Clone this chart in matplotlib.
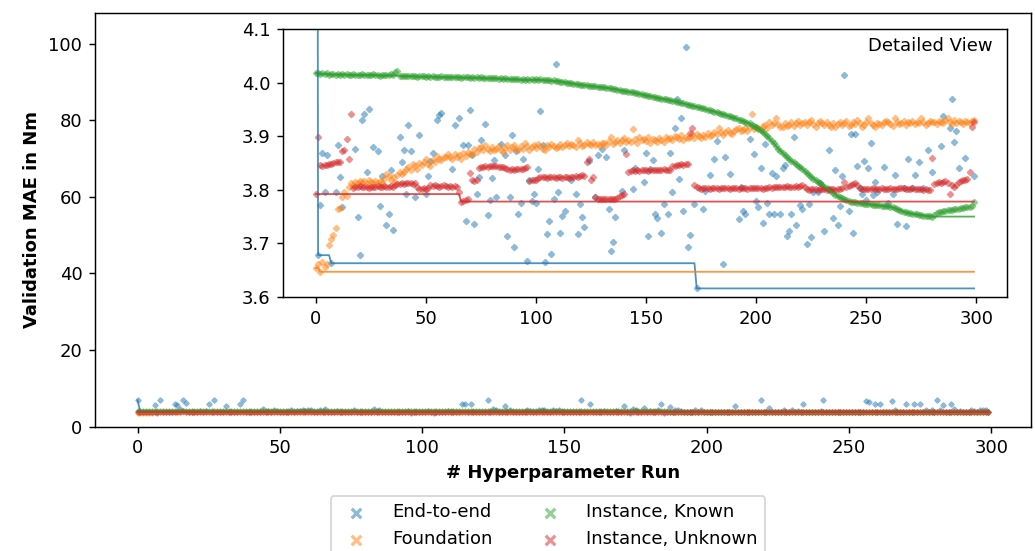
import numpy as np
import matplotlib
matplotlib.use("Agg")
import matplotlib.pyplot as plt

# validation MAE (Nm) per hyperparameter run
end_to_end = [
    6.90, 3.678, 3.772, 3.868, 3.796, 3.864, 5.70, 3.663, 6.90, 3.796,
    3.884, 3.824, 3.767, 5.90, 5.70, 4.50, 6.90, 6.10, 3.877, 3.750,
    3.678, 3.931, 3.942, 3.834, 3.950, 5.90, 3.880, 6.90, 3.873, 3.769,
    3.826, 5.40, 3.734, 3.754, 3.836, 3.725, 5.90, 6.90, 3.898, 3.851,
    3.874, 3.793, 3.920, 3.873, 4.60, 3.787, 4.20, 3.903, 4.35, 4.15,
    3.793, 3.825, 3.854, 3.869, 4.25, 3.930, 3.939, 3.944, 4.40, 4.18,
    4.30, 4.22, 3.839, 3.920, 4.45, 3.934, 4.60, 3.884, 3.742, 3.883,
    3.948, 3.864, 3.737, 3.793, 3.824, 3.892, 4.24, 3.923, 3.753, 3.781,
    3.822, 3.855, 3.787, 4.60, 3.886, 4.32, 3.865, 3.714, 3.786, 3.902,
    3.694, 3.873, 3.755, 3.776, 3.857, 4.19, 3.667, 3.819, 3.779, 3.793,
    3.775, 3.838, 3.947, 3.883, 3.666, 3.717, 3.742, 3.681, 3.783, 4.035,
    3.795, 3.719, 3.752, 3.761, 5.90, 5.90, 3.818, 5.90, 3.792, 3.718,
    3.774, 3.750, 3.731, 6.90, 3.854, 4.60, 4.25, 3.787, 3.864, 5.50,
    3.877, 4.22, 3.861, 3.764, 3.686, 3.702, 3.749, 4.30, 4.17, 3.798,
    3.875, 4.40, 4.21, 4.33, 3.802, 3.840, 4.26, 4.18, 4.45, 3.815,
    3.868, 3.713, 3.839, 3.855, 3.755, 3.747, 6.90, 3.719, 3.774, 5.90,
    3.755, 3.869, 3.796, 3.915, 3.969, 3.820, 3.934, 3.760, 4.066, 3.694,
    3.715, 5.50, 3.773, 3.616, 4.60, 4.28, 3.764, 3.797, 4.80, 3.827,
    4.20, 3.857, 3.891, 4.35, 5.90, 3.662, 3.861, 5.10, 3.830, 4.24,
    4.40, 4.19, 3.745, 3.805, 3.761, 3.754, 4.31, 3.895, 4.22, 3.867,
    3.780, 3.767, 3.841, 3.738, 3.886, 3.776, 3.755, 3.831, 3.755, 3.825,
    5.50, 3.755, 3.841, 3.846, 3.713, 3.724, 3.755, 3.899, 3.735, 6.90,
    3.771, 3.765, 4.90, 3.699, 3.774, 3.712, 3.796, 4.27, 3.796, 3.813,
    4.36, 3.724, 4.20, 3.874, 5.90, 3.748, 3.837, 3.735, 3.770, 3.826,
    4.014, 6.90, 3.761, 3.905, 3.719, 3.905, 3.844, 3.803, 3.793, 3.854,
    3.781, 3.840, 3.888, 3.791, 3.814, 3.796, 6.70, 6.30, 3.842, 5.90,
    3.776, 5.90, 3.793, 3.828, 3.736, 6.60, 4.30, 3.803, 3.733, 3.858,
    5.90, 3.803, 3.828, 5.90, 3.852, 5.90, 3.804, 4.25, 3.874, 4.40,
    3.833, 6.90, 4.22, 5.70, 3.881, 3.938, 5.90, 4.60, 3.916, 3.969,
    3.890, 3.909, 3.840, 4.30, 4.18, 3.859, 4.26, 4.40, 4.21, 3.826,
]

foundation = [
    3.654, 3.662, 3.647, 3.665, 3.656, 3.661, 3.697, 3.709, 3.716, 3.728,
    3.765, 3.766, 3.787, 3.796, 3.788, 3.806, 3.812, 3.809, 3.815, 3.812,
    3.817, 3.814, 3.816, 3.811, 3.818, 3.815, 3.813, 3.817, 3.812, 3.816,
    3.813, 3.820, 3.830, 3.826, 3.818, 3.823, 3.815, 3.828, 3.834, 3.830,
    3.833, 3.838, 3.842, 3.836, 3.848, 3.844, 3.839, 3.850, 3.846, 3.851,
    3.857, 3.849, 3.845, 3.855, 3.852, 3.863, 3.858, 3.855, 3.862, 3.861,
    3.866, 3.861, 3.858, 3.867, 3.862, 3.864, 3.857, 3.868, 3.863, 3.871,
    3.866, 3.867, 3.876, 3.870, 3.878, 3.880, 3.874, 3.883, 3.876, 3.872,
    3.879, 3.874, 3.877, 3.881, 3.875, 3.871, 3.878, 3.883, 3.874, 3.880,
    3.883, 3.876, 3.874, 3.881, 3.877, 3.888, 3.882, 3.875, 3.880, 3.884,
    3.878, 3.886, 3.881, 3.877, 3.874, 3.883, 3.879, 3.886, 3.882, 3.878,
    3.880, 3.885, 3.879, 3.883, 3.887, 3.881, 3.886, 3.884, 3.880, 3.892,
    3.887, 3.881, 3.883, 3.889, 3.885, 3.883, 3.890, 3.884, 3.886, 3.882,
    3.888, 3.888, 3.884, 3.891, 3.899, 3.886, 3.889, 3.893, 3.887, 3.892,
    3.896, 3.889, 3.892, 3.890, 3.913, 3.894, 3.888, 3.899, 3.893, 3.895,
    3.891, 3.899, 3.887, 3.895, 3.893, 3.890, 3.897, 3.893, 3.889, 3.898,
    3.894, 3.896, 3.892, 3.900, 3.899, 3.895, 3.902, 3.893, 3.898, 3.896,
    3.899, 3.904, 3.897, 3.905, 3.901, 3.896, 3.903, 3.899, 3.906, 3.900,
    3.902, 3.908, 3.904, 3.915, 3.907, 3.903, 3.908, 3.911, 3.906, 3.905,
    3.910, 3.913, 3.915, 3.909, 3.912, 3.915, 3.910, 3.918, 3.941, 3.913,
    3.917, 3.915, 3.912, 3.919, 3.921, 3.916, 3.927, 3.920, 3.924, 3.933,
    3.922, 3.918, 3.917, 3.924, 3.919, 3.921, 3.926, 3.919, 3.924, 3.928,
    3.921, 3.925, 3.927, 3.920, 3.926, 3.930, 3.923, 3.917, 3.925, 3.928,
    3.924, 3.921, 3.926, 3.921, 3.918, 3.925, 3.918, 3.922, 3.927, 3.920,
    3.924, 3.928, 3.919, 3.921, 3.926, 3.923, 3.930, 3.925, 3.918, 3.921,
    3.927, 3.933, 3.924, 3.920, 3.918, 3.925, 3.922, 3.921, 3.926, 3.929,
    3.927, 3.923, 3.919, 3.933, 3.926, 3.922, 3.924, 3.929, 3.921, 3.926,
    3.924, 3.928, 3.922, 3.927, 3.925, 3.933, 3.927, 3.921, 3.924, 3.929,
    3.926, 3.927, 3.922, 3.928, 3.927, 3.924, 3.930, 3.933, 3.926, 3.923,
    3.930, 3.925, 3.928, 3.927, 3.922, 3.929, 3.927, 3.924, 3.928, 3.930,
]

instance_known = [
    4.018, 4.017, 4.016, 4.017, 4.016, 4.017, 4.015, 4.016, 4.016, 4.015,
    4.016, 4.015, 4.016, 4.015, 4.016, 4.014, 4.015, 4.016, 4.015, 4.014,
    4.015, 4.016, 4.014, 4.015, 4.014, 4.015, 4.016, 4.014, 4.015, 4.013,
    4.015, 4.014, 4.015, 4.014, 4.016, 4.015, 4.019, 4.021, 4.013, 4.012,
    4.013, 4.012, 4.013, 4.012, 4.013, 4.012, 4.011, 4.012, 4.013, 4.012,
    4.011, 4.012, 4.011, 4.012, 4.011, 4.010, 4.011, 4.012, 4.011, 4.010,
    4.011, 4.010, 4.011, 4.010, 4.011, 4.010, 4.009, 4.010, 4.011, 4.010,
    4.009, 4.010, 4.009, 4.010, 4.009, 4.010, 4.008, 4.009, 4.008, 4.009,
    4.008, 4.009, 4.008, 4.007, 4.008, 4.007, 4.008, 4.007, 4.006, 4.007,
    4.006, 4.007, 4.006, 4.005, 4.006, 4.005, 4.006, 4.005, 4.006, 4.005,
    4.006, 4.005, 4.006, 4.005, 4.004, 4.005, 4.004, 4.003, 4.004, 4.003,
    4.003, 4.002, 4.002, 4.001, 4.000, 4.000, 3.999, 3.998, 3.997, 3.997,
    3.996, 3.996, 3.995, 3.995, 3.994, 3.994, 3.993, 3.993, 3.992, 3.992,
    3.991, 3.991, 3.990, 3.990, 3.989, 3.988, 3.988, 3.987, 3.986, 3.985,
    3.985, 3.984, 3.983, 3.982, 3.982, 3.981, 3.980, 3.979, 3.978, 3.977,
    3.976, 3.975, 3.975, 3.974, 3.973, 3.972, 3.971, 3.970, 3.970, 3.969,
    3.968, 3.967, 3.966, 3.965, 3.964, 3.963, 3.962, 3.961, 3.960, 3.959,
    3.958, 3.957, 3.956, 3.955, 3.954, 3.953, 3.952, 3.950, 3.949, 3.948,
    3.947, 3.946, 3.945, 3.944, 3.942, 3.941, 3.940, 3.938, 3.937, 3.935,
    3.934, 3.933, 3.931, 3.930, 3.928, 3.927, 3.925, 3.924, 3.921, 3.919,
    3.917, 3.914, 3.911, 3.908, 3.904, 3.900, 3.896, 3.891, 3.887, 3.882,
    3.877, 3.873, 3.869, 3.865, 3.861, 3.857, 3.854, 3.851, 3.848, 3.845,
    3.842, 3.839, 3.835, 3.831, 3.828, 3.824, 3.821, 3.818, 3.815, 3.812,
    3.809, 3.806, 3.803, 3.800, 3.797, 3.794, 3.791, 3.788, 3.786, 3.784,
    3.782, 3.781, 3.779, 3.778, 3.777, 3.777, 3.776, 3.775, 3.775, 3.774,
    3.774, 3.773, 3.773, 3.772, 3.772, 3.771, 3.771, 3.770, 3.770, 3.769,
    3.769, 3.768, 3.767, 3.766, 3.764, 3.763, 3.761, 3.759, 3.758, 3.757,
    3.756, 3.755, 3.755, 3.754, 3.753, 3.753, 3.752, 3.752, 3.751, 3.751,
    3.750, 3.753, 3.756, 3.758, 3.759, 3.760, 3.761, 3.762, 3.762, 3.763,
    3.764, 3.765, 3.765, 3.766, 3.766, 3.767, 3.767, 3.768, 3.769, 3.778,
]

instance_unknown = [
    3.792, 3.898, 3.846, 3.845, 3.847, 3.846, 3.848, 3.849, 3.850, 3.851,
    3.852, 3.851, 3.873, 3.874, 3.895, 3.858, 3.941, 3.804, 3.806, 3.805,
    3.807, 3.806, 3.805, 3.806, 3.804, 3.806, 3.805, 3.806, 3.807, 3.805,
    3.806, 3.807, 3.805, 3.806, 3.807, 3.806, 3.808, 3.810, 3.811, 3.812,
    3.811, 3.812, 3.813, 3.812, 3.811, 3.812, 3.806, 3.802, 3.801, 3.803,
    3.802, 3.803, 3.808, 3.807, 3.808, 3.807, 3.806, 3.807, 3.808, 3.807,
    3.806, 3.807, 3.806, 3.807, 3.805, 3.795, 3.778, 3.780, 3.781, 3.782,
    3.831, 3.818, 3.816, 3.818, 3.841, 3.842, 3.843, 3.844, 3.843, 3.844,
    3.845, 3.844, 3.845, 3.843, 3.842, 3.843, 3.841, 3.838, 3.837, 3.838,
    3.837, 3.838, 3.839, 3.838, 3.839, 3.841, 3.843, 3.817, 3.818, 3.819,
    3.818, 3.822, 3.823, 3.824, 3.823, 3.822, 3.823, 3.824, 3.823, 3.822,
    3.823, 3.823, 3.822, 3.824, 3.823, 3.822, 3.823, 3.824, 3.825, 3.824,
    3.826, 3.827, 3.826, 3.852, 3.857, 3.818, 3.823, 3.786, 3.783, 3.782,
    3.783, 3.782, 3.783, 3.782, 3.782, 3.783, 3.782, 3.784, 3.788, 3.790,
    3.793, 3.866, 3.834, 3.835, 3.836, 3.835, 3.836, 3.835, 3.836, 3.837,
    3.836, 3.835, 3.836, 3.837, 3.836, 3.837, 3.836, 3.837, 3.838, 3.837,
    3.836, 3.837, 3.844, 3.845, 3.846, 3.847, 3.848, 3.847, 3.848, 3.848,
    3.906, 3.916, 3.808, 3.805, 3.803, 3.802, 3.803, 3.804, 3.803, 3.802,
    3.803, 3.804, 3.803, 3.802, 3.803, 3.804, 3.803, 3.803, 3.802, 3.803,
    3.804, 3.803, 3.802, 3.803, 3.804, 3.803, 3.802, 3.803, 3.804, 3.803,
    3.803, 3.804, 3.803, 3.802, 3.803, 3.804, 3.805, 3.804, 3.805, 3.806,
    3.805, 3.806, 3.805, 3.806, 3.807, 3.806, 3.805, 3.806, 3.807, 3.806,
    3.807, 3.809, 3.806, 3.801, 3.800, 3.801, 3.802, 3.801, 3.800, 3.801,
    3.802, 3.801, 3.800, 3.801, 3.802, 3.801, 3.800, 3.801, 3.802, 3.803,
    3.815, 3.805, 3.807, 3.809, 3.811, 3.812, 3.809, 3.804, 3.802, 3.801,
    3.802, 3.801, 3.802, 3.803, 3.802, 3.801, 3.802, 3.803, 3.802, 3.801,
    3.802, 3.803, 3.802, 3.801, 3.802, 3.803, 3.804, 3.803, 3.802, 3.801,
    3.802, 3.803, 3.802, 3.801, 3.802, 3.801, 3.800, 3.801, 3.800, 3.799,
    3.860, 3.810, 3.812, 3.815, 3.812, 3.814, 3.816, 3.813, 3.792, 3.808,
    3.806, 3.809, 3.815, 3.816, 3.818, 3.818, 3.821, 3.834, 3.918, 3.927,
]

series_names = ["End-to-end", "Foundation", "Instance, Known", "Instance, Unknown"]
series_values = [end_to_end, foundation, instance_known, instance_unknown]
series_colors = ["tab:blue", "tab:orange", "tab:green", "tab:red"]
runs = np.arange(len(end_to_end))

plt.rcParams.update({'font.size': 10})


def draw_runs(ax, size, width):
    for name, vals, col in zip(series_names, series_values, series_colors):
        vals = np.array(vals)
        ax.scatter(runs, vals, marker='x', s=size, linewidths=width, alpha=0.5,
                   color=col, label=name)
        ax.plot(runs, np.minimum.accumulate(vals), color=col, lw=1, alpha=0.8)


fig = plt.figure(figsize=(1035 / 130, 551 / 130), dpi=130)
ax = fig.add_axes([0.0918, 0.2258, 0.9043, 0.7506])
draw_runs(ax, 4, 2.2)
ax.set_ylim(0, 108)
ax.set_xlabel('# Hyperparameter Run', fontweight='bold')
ax.set_ylabel('Validation MAE in Nm', fontweight='bold')

inset = fig.add_axes([0.2734, 0.461, 0.6995, 0.4864])
draw_runs(inset, 5, 2.6)
inset.set_ylim(3.6, 4.1)
inset.text(0.98, 0.97, 'Detailed View', transform=inset.transAxes, ha='right', va='top')

handles, labels = ax.get_legend_handles_labels()
leg = fig.legend(handles, labels, ncol=2, loc='upper center', bbox_to_anchor=(0.5295, 0.116),
                 columnspacing=2.2, handletextpad=1.0)
# plain, readable crosses in the legend
for h in leg.legend_handles:
    h.set_sizes([28])
    h.set_linewidths([1.8])

fig.savefig('out.png', dpi=130)
